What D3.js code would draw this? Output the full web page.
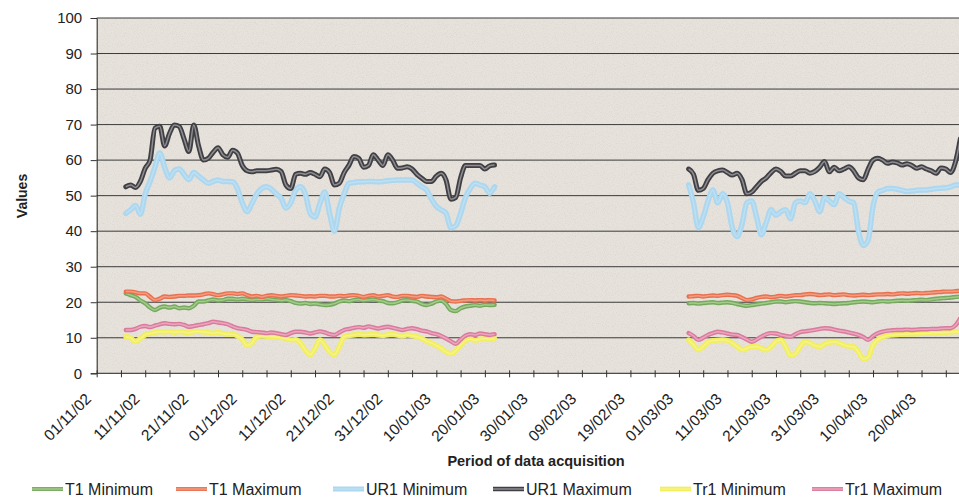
<!DOCTYPE html>
<html><head><meta charset="utf-8">
<script src="https://cdn.jsdelivr.net/npm/d3@7"></script>
<style>html,body{margin:0;padding:0;background:#fff}svg{display:block}</style>
</head><body><svg id="c" width="959" height="498"></svg>
<script>
// ---------- DATA ----------
const seriesNames = ["T1 Minimum","T1 Maximum","UR1 Minimum","UR1 Maximum","Tr1 Minimum","Tr1 Maximum"];
const yTicks = [0,10,20,30,40,50,60,70,80,90,100];
const axisStart = "2002-11-01";
const axisEnd = "2003-04-30";
const lastLabelled = "2003-04-25";
const seg1Start = "2002-11-07";   // daily values, first acquisition period
const seg2Start = "2003-03-03";   // daily values, second acquisition period

const t1MinA = [22.5,22,21.5,20.5,19.7,18.5,17.8,18.5,18.8,18.5,
  18.8,18.3,18.5,18.3,19,20.2,20.2,20.5,20.8,20.5,
  20.6,21,21,20.8,21,20.8,20.6,20.8,20.8,21,
  20.8,20.6,20.5,20.6,20.3,19.8,19.6,19.8,19.5,19.6,
  19.4,19.2,19.3,19.6,20.2,20.5,20.3,20.6,20.8,20.5,
  20.6,20.8,20.5,20.3,19.8,19.7,20,20.5,20.6,20.4,
  20.2,19.5,19.2,19.6,20.2,20.5,19.5,17.8,17.5,18.3,
  18.8,19,19.2,19,19.3,19.2,19.3];
const t1MaxA = [23,23,22.8,22.5,22.5,21.5,20.6,21,21.6,21.5,
  21.6,21.8,21.8,21.9,21.9,22,22.2,22.5,22.3,22,
  22.2,22.5,22.5,22.3,22.5,22,21.6,21.8,21.5,21.8,
  22,21.8,21.6,21.8,22,21.9,21.8,21.6,21.7,21.6,
  21.8,21.8,21.6,21.6,21.8,21.7,21.9,22,21.8,21.5,
  21.8,22,21.6,21.8,22,21.6,21.5,21.8,21.8,21.6,
  21.5,21.8,21.6,21.5,21.4,21.6,21,20.3,20.2,20.4,
  20.5,20.6,20.5,20.6,20.5,20.6,20.5];
const ur1MinA = [45,46,47.2,44.8,50.5,54,58,62,58,55,
  57,57.5,56,54.5,56.5,55.5,54.4,53.5,54,54.4,
  54,54,53.9,52,48,45.5,47.8,50.5,52,52.5,
  51.8,50.5,49.3,46.5,48,51.5,52.5,50.5,45,44,
  47.8,51,45,40,46.5,50.5,53.5,53.7,53.9,53.9,
  54,54,53.9,54,54.2,54.3,54.4,54.4,54.4,54.4,
  53.5,52.5,51.6,49,47,46,45,41,41.5,45,
  49.5,52,53.5,53,52.5,50.7,52.5];
const ur1MaxA = [52.5,53,52.3,54,57.7,60,69,69.5,64,67.5,
  69.9,69.5,66,62.4,69.9,64,60,60.5,62.2,63.5,
  61.5,60.8,62.8,62,58.5,57,56.7,57,57,57,
  57.2,57.4,56.8,53,52,56,56.3,56,56.5,56,
  55.3,57.5,56.5,53,53.5,56.5,58.6,61,60.5,58,
  58.5,61.5,60,58.5,61.5,60,57.7,57.8,58.1,57.5,
  56,54.9,54,54,55.5,56.3,54.4,49,49.5,55,
  58.5,58.5,58.5,58.5,57.5,58.4,58.6];
const tr1MinA = [10.3,10,8.9,9.8,10.8,11.2,11.5,11.7,11.6,11.8,
  11.5,11.7,11.6,11.4,11.7,11.8,11.6,11.5,11.3,11.5,
  11.2,11,11,10.5,9.5,7.8,8.5,10.3,10.5,10.4,
  10.3,10.2,10,9.8,9.4,9.5,8.5,6.5,5.2,7,
  9.4,8,6,5.2,7.5,10.3,10.6,10.8,11,10.8,
  10.9,11,10.8,10.6,10.9,11,10.7,10.5,10.8,10.6,
  10.3,9.8,9,8.5,7.8,7,6,5.5,6.3,8,
  9.2,9.6,9.3,9.6,9.8,9.5,9.8];
const tr1MaxA = [12.2,12.2,12.5,13.1,13.3,13,13.4,13.8,14.1,13.9,
  13.8,13.9,13.6,13.1,13.3,13.6,13.8,14.1,14.5,14.3,
  14.1,13.8,13.2,12.7,12.5,12.2,11.7,11.6,11.5,11.3,
  11.5,11.3,11,10.8,11.3,11.7,11.7,11.5,11.2,11.5,
  11.8,11.5,11,10.8,11.5,12.2,12.5,12.8,13,12.8,
  13.2,12.9,12.6,12.9,13.1,12.8,12.5,12.2,12.5,12.7,
  12.4,12,11.8,11.3,11,10.5,9.8,9,8.3,9.5,
  10.6,11,10.8,11.2,11,10.8,11];

const t1MinB = [19.7,19.8,19.6,19.8,19.9,20,19.8,19.9,20,19.8,
  19.5,19.2,19,19.2,19.4,19.6,19.8,20,20.2,20.2,
  20,20.2,20.3,20.2,20,19.8,19.7,19.8,19.7,19.6,
  19.5,19.6,19.7,19.8,20,20.1,20.2,20.1,20,20.2,
  20.3,20.2,20.3,20.4,20.5,20.4,20.5,20.6,20.7,20.6,
  20.8,21,21.1,21.2,21.3,21.5,21.6];
const t1MaxB = [21.6,21.7,21.8,21.6,21.8,21.9,21.8,22,22.1,22,
  21.8,21.2,20.6,20.8,21.2,21.5,21.6,21.4,21.6,21.8,
  21.6,21.8,22,22,22.2,22.3,22.2,22,22.1,22.2,
  22,22.1,22.2,22,21.9,22,22.1,22,22.1,22.2,
  22.2,22.3,22.2,22.4,22.5,22.4,22.5,22.6,22.5,22.6,
  22.7,22.8,22.9,23,23,23.1,23.2];
const ur1MinB = [53,48,41,44,48.5,51.6,48,50.5,48,41,
  38.5,42,48,48.5,44,39,42.5,46,44.5,45.5,
  46,43.5,48,48.5,48,50.5,48.5,45.5,49.5,48.5,
  47.5,50.5,49.5,48.5,48,40,36,37.5,47,51,
  51.5,52,52,51.8,51.5,51.2,51.3,51.5,51.6,51.6,
  51.8,52,52.1,52.2,52.5,53,53];
const ur1MaxB = [57.5,56,51.5,52,54.5,56.3,57,57.2,56.5,55.8,
  56.3,54.5,50.5,51,52.5,54,55,56.5,57.5,56.8,
  55.5,55.5,56.3,57,57,56.3,56.8,58,59.6,56.7,
  58,57,57.5,58.1,57,55,54.5,57.5,60,60.5,
  60,59.1,59.5,59.2,58.6,59,58.5,57.7,58.1,57.5,
  57,56.3,57.8,57.5,56.5,59.5,66];
const tr1MinB = [9.4,8,6.6,7.5,8.8,9.2,9.3,9.4,9.2,8.5,
  7.5,6.6,7,7.5,7.5,7,6.6,7.5,9,9.4,
  7.5,5,5.5,7.5,8.9,8.5,7.8,7.5,8.2,8.7,
  8.9,8.5,8,7.6,7.5,6,4,4.5,8,9.5,
  10.2,10.6,10.8,10.9,11,11,11.1,11.1,11.2,11.2,
  11.3,11.4,11.4,11.5,11.6,11.7,11.7];
const tr1MaxB = [11.3,10.5,9.4,10,10.8,11.3,11.7,11.5,11.2,10.9,
  10.8,10.2,9.5,8.9,9.5,10.3,11,11.3,11.2,10.8,
  10.5,10.3,11,11.6,11.8,12,12.2,12.5,12.7,12.6,
  12.3,12,11.8,11.5,11.2,10.8,10.2,9.4,10.5,11.3,
  11.7,12,12.1,12.2,12.2,12.3,12.2,12.3,12.4,12.4,
  12.5,12.5,12.6,12.7,12.7,13.5,15.5];

const segA = [t1MinA, t1MaxA, ur1MinA, ur1MaxA, tr1MinA, tr1MaxA];
const segB = [t1MinB, t1MaxB, ur1MinB, ur1MaxB, tr1MinB, tr1MaxB];

// ---------- STYLE ----------
const styles = [
  {outer:"#74a95e", ow:4.4, inner:"#a4cb8a", iw:1.5},
  {outer:"#e9704f", ow:4.4, inner:"#f39c80", iw:1.5},
  {outer:"#acd7ef", ow:5.5, inner:"#bde0f3", iw:1.5},
  {outer:"#403f43", ow:5,   inner:"#8e8d92", iw:1.5},
  {outer:"#f2ef5e", ow:5.2, inner:"#f6f38a", iw:1.5},
  {outer:"#da7a9c", ow:4.4, inner:"#eba6bf", iw:1.5}
];
const FONT = "Liberation Sans, Arial, sans-serif";

const W = 959, H = 498;
const DAY = 864e5;
const parse = s => new Date(s + "T00:00:00Z");
const x0 = 96.7, pxDay = 4.852;
const dStart = parse(axisStart), dEnd = parse(axisEnd);
const nDays = Math.round((dEnd - dStart) / DAY);
const nTickDays = Math.round((parse(lastLabelled) - dStart) / DAY);

const x = d3.scaleUtc().domain([dStart, dEnd]).range([x0, x0 + nDays * pxDay]);
const y = d3.scaleLinear().domain([0, 100]).range([373.3, 18]);

const svg = d3.select("#c");
const defs = svg.append("defs");
const f = defs.append("filter").attr("id","noise").attr("x",0).attr("y",0).attr("width","100%").attr("height","100%");
f.append("feTurbulence").attr("type","fractalNoise").attr("baseFrequency",0.9).attr("numOctaves",2).attr("seed",7);
f.append("feColorMatrix").attr("type","matrix")
  .attr("values","0 0 0 0 0.45  0 0 0 0 0.43  0 0 0 0 0.40  1.4 0 0 0 -0.62");
defs.append("clipPath").attr("id","clip").append("rect")
  .attr("x", x0).attr("y", y(100) - 4).attr("width", W - x0).attr("height", y(0) - y(100) + 8);

// plot background
svg.append("rect").attr("x", x0).attr("y", y(100)).attr("width", W - x0).attr("height", y(0) - y(100))
  .attr("fill", "#e7e3dc");
svg.append("rect").attr("x", x0).attr("y", y(100)).attr("width", W - x0).attr("height", y(0) - y(100))
  .attr("filter", "url(#noise)").attr("opacity", 0.35);

// gridlines
svg.append("g").selectAll("line").data(yTicks.filter(v => v > 0)).join("line")
  .attr("x1", x0).attr("x2", W).attr("y1", d => y(d)).attr("y2", d => y(d))
  .attr("stroke", "#3a3a3a").attr("stroke-width", 1);

// y axis
const ya = svg.append("g").attr("transform", `translate(${x0},0)`)
  .call(d3.axisLeft(y).tickValues(yTicks).tickSize(6).tickPadding(8.5));
ya.select(".domain").attr("stroke", "#222");
ya.selectAll(".tick line").attr("stroke", "#333");
ya.selectAll("text").attr("font-family", FONT).attr("font-size", 15).attr("fill", "#222");

// x axis
const tickDates = d3.range(0, nDays + 1, 5).map(d => new Date(+dStart + d * DAY));
const fmt = d3.utcFormat("%d/%m/%y");
const xa = svg.append("g").attr("transform", `translate(0,${y(0)})`)
  .call(d3.axisBottom(x).tickValues(tickDates).tickSizeInner(4).tickSizeOuter(0)
    .tickFormat((d, i) => (i % 2 === 0 && i * 5 <= nTickDays) ? fmt(d) : ""));
xa.select(".domain").attr("stroke", "#222").attr("d", `M${x0},0H${W}`);
xa.selectAll(".tick line").attr("y1", -3).attr("stroke", "#333");
xa.selectAll("text").attr("x", 0).attr("y", 0).attr("dy", 0)
  .attr("text-anchor", "end").attr("transform", "translate(-5,26.5) rotate(-45)")
  .attr("font-family", FONT).attr("font-size", 15.5).attr("fill", "#222");

// lines
const line = d3.line().x(d => x(d.date)).y(d => y(d.v)).curve(d3.curveMonotoneX);
const toPts = (startStr, arr) => arr.map((v, i) => ({date: new Date(+parse(startStr) + i * DAY), v}));
const gl = svg.append("g").attr("clip-path", "url(#clip)");
seriesNames.forEach((name, si) => {
  const st = styles[si];
  [toPts(seg1Start, segA[si]), toPts(seg2Start, segB[si])].forEach(pts => {
    gl.append("path").attr("d", line(pts)).attr("fill", "none")
      .attr("stroke", st.outer).attr("stroke-width", st.ow).attr("stroke-linejoin", "round").attr("stroke-linecap", "round");
    gl.append("path").attr("d", line(pts)).attr("fill", "none")
      .attr("stroke", st.inner).attr("stroke-width", st.iw).attr("stroke-linejoin", "round");
  });
});

// axis titles
svg.append("text").attr("transform", "translate(27,196) rotate(-90)").attr("text-anchor", "middle")
  .attr("font-family", FONT).attr("font-size", 14).attr("font-weight", "bold")
  .attr("fill", "#222").text("Values");
svg.append("text").attr("x", 536).attr("y", 466).attr("text-anchor", "middle")
  .attr("font-family", FONT).attr("font-size", 14.5).attr("font-weight", "bold")
  .attr("fill", "#222").text("Period of data acquisition");

// legend
const legendX = [32, 176, 333, 493, 660, 812];
const lg = svg.append("g");
seriesNames.forEach((name, si) => {
  const st = styles[si];
  const g = lg.append("g").attr("transform", `translate(${legendX[si]},489)`);
  g.append("line").attr("x1", 0).attr("x2", 31).attr("stroke", st.outer).attr("stroke-width", st.ow - 0.5);
  g.append("line").attr("x1", 0).attr("x2", 31).attr("stroke", st.inner).attr("stroke-width", st.iw);
  g.append("text").attr("x", 33).attr("y", 6).attr("font-family", FONT)
    .attr("font-size", 16).attr("fill", "#222").text(name);
});
</script></body></html>
